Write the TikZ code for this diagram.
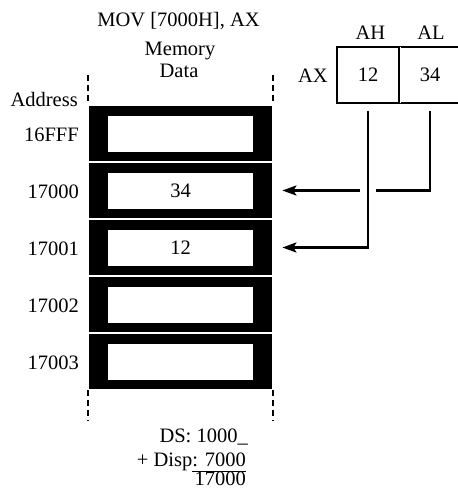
\documentclass[tikz,border=0pt]{standalone}
\usepackage{fontspec}
\setmainfont{Liberation Serif}
\usetikzlibrary{arrows.meta}
\begin{document}
\begin{tikzpicture}[x=1pt,y=-1pt,
  every node/.style={font=\fontsize{20.5}{23}\selectfont, inner sep=0pt},
  cell/.style={rectangle, minimum width=185pt, minimum height=57pt, fill=black, draw=black, line width=0.8pt, double=white, double distance=1.3pt},
  slot/.style={rectangle, minimum width=145pt, minimum height=36pt, fill=white},
  reg/.style={rectangle, minimum width=62pt, minimum height=56pt, draw=black, line width=1.6pt},
  lab/.style={anchor=base east},
  conn/.style={line width=2.6pt},
  arr/.style={conn, -{Stealth[length=14pt,width=10pt,inset=3pt]}, shorten >=9pt},
  dashline/.style={line width=1.4pt, dash pattern=on 6pt off 4pt}
]
\useasboundingbox (0,0) rectangle (458,488);

% title and headings
\node (title) at (178.5,21) {MOV [7000H], AX};
\node (mem) at (180,51) {Memory};
\node (dat) at (179,71) {Data};

% memory cells
\node[cell] (m0) at (180.5,133.5) {};
\node[cell] (m1) at (180.5,190.5) {};
\node[cell] (m2) at (180.5,247.5) {};
\node[cell] (m3) at (180.5,304.5) {};
\node[cell] (m4) at (180.5,361.5) {};
\node[slot] (s0) at (m0) {};
\node[slot] (s1) at (m1) {34};
\node[slot] (s2) at (m2) {12};
\node[slot] (s3) at (m3) {};
\node[slot] (s4) at (m4) {};

% address labels
\node[lab] (addr) at (78,106) {Address};
\node[lab] (a0) at (79,141) {16FFF};
\node[lab] (a1) at (79,198) {17000};
\node[lab] (a2) at (79,255) {17001};
\node[lab] (a3) at (79,312) {17002};
\node[lab] (a4) at (79,369) {17003};

% dashed continuation lines
\coordinate (dtl) at (88,75);
\coordinate (dtr) at (273,75);
\coordinate (dbl) at (88,421);
\coordinate (dbr) at (273,421);
\draw[dashline] (dtl) -- (m0.north west -| dtl);
\draw[dashline] (dtr) -- (m0.north east -| dtr);
\draw[dashline] (m4.south west -| dbl) -- (dbl);
\draw[dashline] (m4.south east -| dbr) -- (dbr);

% register AX
\node[reg] (rh) at (368,75) {12};
\node[reg] (rl) at (430,75) {34};
\draw[line width=1.8pt, white] ([yshift=-1pt]rh.north east) -- ([yshift=1pt]rh.south east);
\draw[line width=1pt] ([yshift=-1pt]rh.north east) -- ([yshift=1pt]rh.south east);
\node (ah) at (370.5,33) {AH};
\node (al) at (431,33) {AL};
\node[anchor=east] (ax) at (328,76) {AX};

% connectors
\coordinate (hs) at ([yshift=-7pt]rh.south);
\coordinate (ls) at ([yshift=-7pt]rl.south);
\coordinate (gapR) at ([xshift=8pt]hs |- m1.east);
\coordinate (gapL) at ([xshift=-8pt]hs |- m1.east);
\draw[conn] (ls) |- (gapR);
\draw[arr] (gapL) -- (m1.east);
\draw[arr] (hs) |- (m2.east);

% address calculation
\node[lab] (ds) at (248,442) {DS: 1000\_};
\node[lab] (disp) at (246,466) {+ Disp: 7000};
\node[lab] (sum) at (246,485) {17000};
\coordinate (ulL) at (192,471);
\coordinate (ulR) at (246,471);
\draw[line width=0.9pt] (ulL) -- (ulR);
\end{tikzpicture}
\end{document}
